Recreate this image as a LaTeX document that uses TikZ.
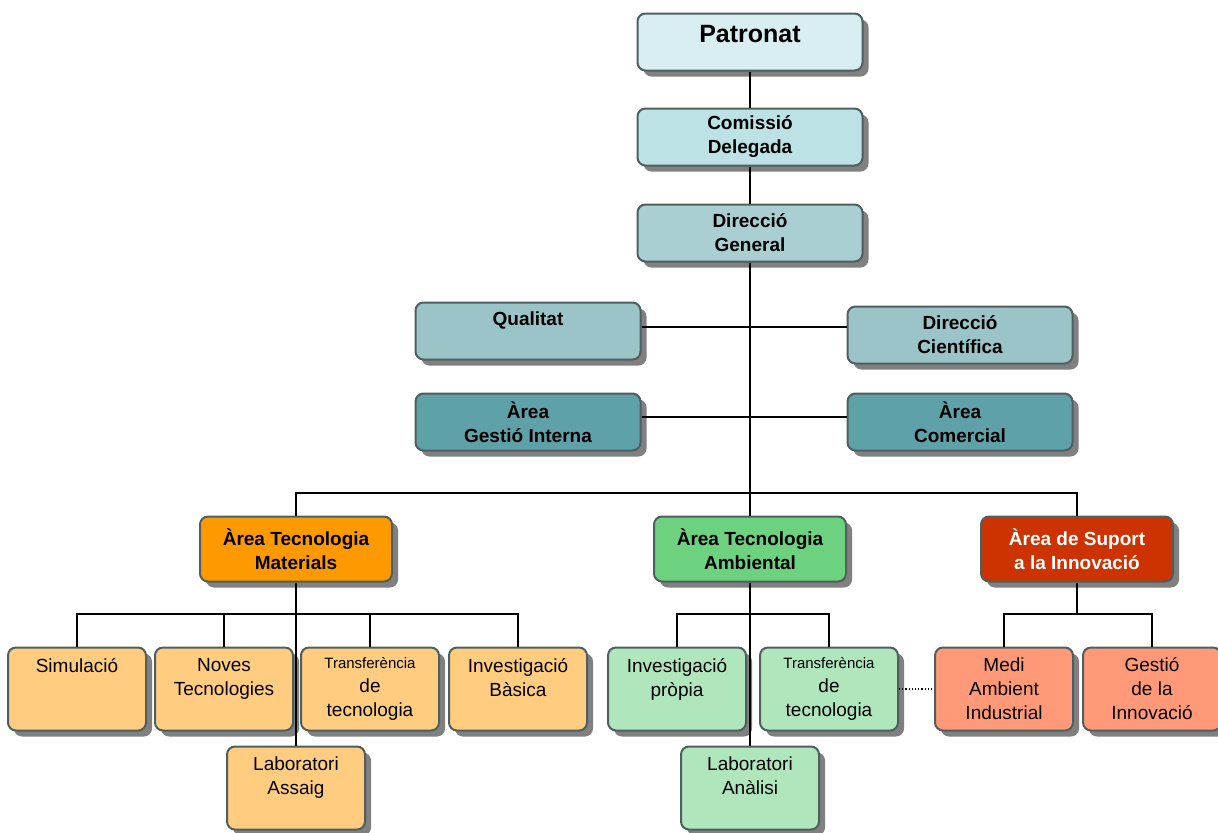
\documentclass[tikz,border=0pt]{standalone}
\usepackage{fontspec}
\setmainfont{Liberation Sans}
\usetikzlibrary{shadows}

\definecolor{boxline}{HTML}{4F5F60}
\definecolor{shadowgray}{HTML}{808080}
\definecolor{patrcol}{HTML}{D9EEF0}
\definecolor{comcol}{HTML}{BDE2E6}
\definecolor{dgcol}{HTML}{AACFD3}
\definecolor{sidecol}{HTML}{9AC4C8}
\definecolor{areacol}{HTML}{5FA1A8}
\definecolor{matcol}{HTML}{FF9900}
\definecolor{ambcol}{HTML}{6CD27F}
\definecolor{supcol}{HTML}{CC3300}
\definecolor{matlight}{HTML}{FFCC80}
\definecolor{amblight}{HTML}{B0E6BC}
\definecolor{suplight}{HTML}{FF9977}

\newcommand{\smalltr}[1]{{\fontsize{7.5}{12}\selectfont #1}}

\begin{document}
\begin{tikzpicture}[x=0.5pt,y=-0.5pt,line width=1pt,
  box/.style={draw=boxline,line width=1pt,rounded corners=4pt,align=center,inner sep=0pt,
    drop shadow={shadow xshift=3pt,shadow yshift=-3pt,fill=shadowgray,opacity=1},
    font=\fontsize{9.5}{12}\selectfont},
  upperbox/.style={box,minimum width=112.5pt,minimum height=28.5pt,
    font=\fontsize{9.5}{12}\selectfont\bfseries},
  areabox/.style={box,minimum width=96pt,minimum height=32.5pt,
    font=\fontsize{9.5}{12}\selectfont\bfseries},
  unitbox/.style={box,minimum width=69pt,minimum height=41.5pt}]
  \useasboundingbox (0,0) rectangle (1218,832);

  % direccio
  \node[upperbox,fill=patrcol,text depth=8pt,font=\fontsize{12.5}{15}\selectfont\bfseries] (patronat) at (750,42) {Patronat};
  \node[upperbox,fill=comcol] (comissio) at (750,137) {Comissió\\Delegada};
  \node[upperbox,fill=dgcol] (dirgen) at (750,233) {Direcció\\General};
  \node[upperbox,fill=sidecol] (qualitat) at (528,331) {Qualitat\\\mbox{}};
  \node[upperbox,fill=sidecol] (dircient) at (960,335) {Direcció\\Científica};
  \node[upperbox,fill=areacol] (gestint) at (528,422) {Àrea\\Gestió Interna};
  \node[upperbox,fill=areacol] (comercial) at (960,422) {Àrea\\Comercial};

  % arees
  \node[areabox,fill=matcol] (materials) at (296,549) {Àrea Tecnologia\\Materials};
  \node[areabox,fill=ambcol] (ambiental) at (750,549) {Àrea Tecnologia\\Ambiental};
  \node[areabox,fill=supcol,text=white] (suport) at (1077,549) {Àrea de Suport\\a la Innovació};

  % unitats
  \node[unitbox,fill=matlight] (simulacio) at (77,689) {Simulació\\\mbox{}\\\mbox{}};
  \node[unitbox,fill=matlight] (noves) at (224,689) {Noves\\Tecnologies\\\mbox{}};
  \node[unitbox,fill=matlight] (transfmat) at (370,689) {\smalltr{Transferència}\\de\\tecnologia};
  \node[unitbox,fill=matlight] (invbasica) at (518,689) {Investigació\\Bàsica\\\mbox{}};
  \node[unitbox,fill=matlight] (labassaig) at (296,788) {Laboratori\\Assaig\\\mbox{}};

  \node[unitbox,fill=amblight] (invpropia) at (677,689) {Investigació\\pròpia\\\mbox{}};
  \node[unitbox,fill=amblight] (transfamb) at (829,689) {\smalltr{Transferència}\\de\\tecnologia};
  \node[unitbox,fill=amblight] (labanalisi) at (750,788) {Laboratori\\Anàlisi\\\mbox{}};

  \node[unitbox,fill=suplight] (medi) at (1004,689) {Medi\\Ambient\\Industrial};
  \node[unitbox,fill=suplight] (gestio) at (1152,689) {Gestió\\ de la\\Innovació};

  \coordinate (bar) at (750,493);
  \coordinate (matbar) at (296,614);
  \coordinate (ambbar) at (750,614);
  \coordinate (supbar) at (1077,614);

  % linies
  \draw (patronat) -- (comissio);
  \draw (comissio) -- (dirgen);
  \draw (dirgen.south) -- (bar);
  \draw ([yshift=2pt]qualitat.east) -- ([yshift=2pt]qualitat.east -| dircient.west);
  \draw ([yshift=2.5pt]gestint.east) -- ([yshift=2.5pt]comercial.west);
  \draw (materials.north) |- (bar) -| (suport.north);
  \draw (bar) -- (ambiental);

  \draw (simulacio.north) |- (matbar) -| (invbasica.north);
  \draw (noves) -- (noves |- matbar);
  \draw (transfmat) -- (transfmat |- matbar);
  \draw (materials) -- (labassaig);

  \draw (invpropia.north) |- (ambbar) -| (transfamb.north);
  \draw (ambiental) -- (labanalisi);

  \draw (suport) -- (supbar);
  \draw (medi.north) |- (supbar) -| (gestio.north);
  \draw[densely dotted,line width=0.6pt] (transfamb) -- (medi);
\end{tikzpicture}
\end{document}
